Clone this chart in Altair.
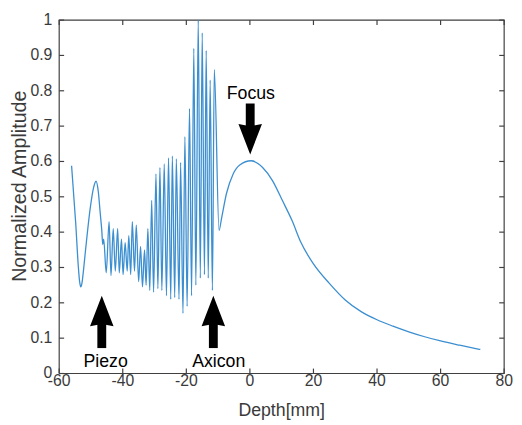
import altair as alt
import pandas as pd

# ---- data ----
depth = [
    -56.1, -54.8, -54.0, -53.6, -53.2, -52.8, -52.5, -51.7, -50.2, -49.2, -48.4,
    -47.7, -47.1, -46.6, -46.3, -46.0, -45.2,
    -44.3, -43.7, -43.0, -42.35, -41.6, -41.1, -40.4, -39.9, -39.25, -38.6,
    -38.1, -37.5, -37.0, -36.3, -35.75, -35.0, -34.4, -33.8, -33.15, -32.65,
    -32.1, -31.5, -30.9, -30.3, -29.55, -28.95, -28.3, -27.7, -26.95, -26.25,
    -25.6, -24.9, -24.4, -23.65, -23.15, -22.3, -21.8, -21.05, -20.45, -19.75,
    -19.0, -18.35, -17.65, -17.0, -16.25, -15.6, -15.0, -14.3, -13.75, -13.1,
    -12.5, -11.8, -11.2, -9.7,
    -8.9, -7.35, -5.3, -3.2, 0.4, 4.0, 7.1, 10.2, 13.3, 16.0, 20.0, 25.0,
    30.0, 35.0, 40.0, 45.0, 50.0, 55.0, 60.0, 66.0, 72.5,
]
amplitude = [
    0.588, 0.425, 0.305, 0.262, 0.245, 0.258, 0.28, 0.35, 0.47, 0.525, 0.544,
    0.515, 0.455, 0.405, 0.365, 0.38, 0.285,
    0.43, 0.277, 0.41, 0.29, 0.41, 0.285, 0.38, 0.28, 0.37, 0.29,
    0.39, 0.28, 0.43, 0.29, 0.42, 0.26, 0.36, 0.245, 0.35, 0.25,
    0.41, 0.235, 0.49, 0.23, 0.565, 0.24, 0.583, 0.235, 0.593, 0.22,
    0.61, 0.21, 0.615, 0.215, 0.607, 0.21, 0.597, 0.17, 0.67, 0.19,
    0.75, 0.22, 0.92, 0.25, 1.0, 0.27, 0.964, 0.28, 0.914, 0.27,
    0.83, 0.235, 0.86, 0.405,
    0.44, 0.51, 0.564, 0.59, 0.602, 0.583, 0.546, 0.49, 0.432, 0.372, 0.31, 0.255,
    0.208, 0.175, 0.152, 0.134, 0.118, 0.104, 0.092, 0.08, 0.068,
]

x_ticks = [-60, -40, -20, 0, 20, 40, 60, 80]
y_ticks = [0, 0.1, 0.2, 0.3, 0.4, 0.5, 0.6, 0.7, 0.8, 0.9, 1]
x_tick_labels = [str(v) for v in x_ticks]
y_tick_labels = [f"{v:g}" for v in y_ticks]
x_title = "Depth[mm]"
y_title = "Normalized Amplitude"

label_text = ["Piezo", "Axicon", "Focus"]
label_x = [-45.4, -9.8, 0.3]
label_y = [0.0195, 0.0195, 0.777]

arrow_x = [-46.6, -11.5, 0.1]
arrow_tail = [0.072, 0.072, 0.764]
arrow_neck = [0.15, 0.15, 0.69]
arrow_head = [0.177, 0.177, 0.663]
arrow_dir = ["up", "up", "down"]

W, H = 452, 359
TL = 5  # inward tick length, px
FONT = "Liberation Sans"
AX = "#404040"
TXT = "#3a3a3a"

# ---- tables ----
X0, X1 = x_ticks[0], x_ticks[-1]
Y0, Y1 = y_ticks[0], y_ticks[-1]
DX = (X1 - X0) * TL / W   # tick length expressed in x units
DY = (Y1 - Y0) * TL / H   # tick length expressed in y units

df = pd.DataFrame({"depth": depth, "amp": amplitude})
labels_df = pd.DataFrame({"t": label_text, "x": label_x, "y": label_y})
arrows_df = pd.DataFrame({"x": arrow_x, "tail": arrow_tail, "neck": arrow_neck,
                          "head": arrow_head, "dir": arrow_dir})
xl_df = pd.DataFrame({"v": x_ticks, "t": x_tick_labels, "lo": [Y0] * len(x_ticks)})
yl_df = pd.DataFrame({"v": y_ticks, "t": y_tick_labels, "lo": [X0] * len(y_ticks)})
xtitle_df = pd.DataFrame({"t": [x_title], "x": [(X0 + X1) / 2], "y": [Y0]})
ytitle_df = pd.DataFrame({"t": [y_title], "x": [X0], "y": [0.53]})

# box outline as a closed path of the four domain corners
box_df = pd.DataFrame({"x": [X0, X1, X1, X0, X0], "y": [Y0, Y0, Y1, Y1, Y0],
                       "o": [0, 1, 2, 3, 4]})

# inward tick segments
seg_rows = []
for i, v in enumerate(x_ticks):
    seg_rows += [(f"b{i}", v, Y0, 0), (f"b{i}", v, Y0 + DY, 1),
                 (f"t{i}", v, Y1, 0), (f"t{i}", v, Y1 - DY, 1)]
for i, v in enumerate(y_ticks):
    seg_rows += [(f"l{i}", X0, v, 0), (f"l{i}", X0 + DX, v, 1),
                 (f"r{i}", X1, v, 0), (f"r{i}", X1 - DX, v, 1)]
seg_df = pd.DataFrame(seg_rows, columns=["id", "x", "y", "o"])

xs = alt.Scale(domain=[X0, X1], nice=False, zero=False)
ys = alt.Scale(domain=[Y0, Y1], nice=False, zero=False)


def X(field):
    return alt.X(field, type="quantitative", scale=xs, axis=None)


def Y(field):
    return alt.Y(field, type="quantitative", scale=ys, axis=None)


line = alt.Chart(df).mark_line(
    interpolate="monotone", color="#3b8ed0", strokeWidth=1.3
).encode(x=X("depth"), y=Y("amp"))

box = alt.Chart(box_df).mark_line(color=AX, strokeWidth=1.2).encode(
    x=X("x"), y=Y("y"), order="o:Q")

ticks = alt.Chart(seg_df).mark_line(color=AX, strokeWidth=1.2).encode(
    x=X("x"), y=Y("y"), detail="id:N", order="o:Q")

x_labels = alt.Chart(xl_df).mark_text(
    font=FONT, fontSize=16, color=TXT, align="center", baseline="alphabetic", dy=12.5
).encode(x=X("v"), y=Y("lo"), text="t:N")
y_labels = alt.Chart(yl_df).mark_text(
    font=FONT, fontSize=16, color=TXT, align="right", baseline="middle", dx=-7
).encode(x=X("lo"), y=Y("v"), text="t:N")

x_title_mark = alt.Chart(xtitle_df).mark_text(
    font=FONT, fontSize=18, color=TXT, align="center", baseline="alphabetic", dy=43
).encode(x=X("x"), y=Y("y"), text="t:N")
y_title_mark = alt.Chart(ytitle_df).mark_text(
    font=FONT, fontSize=20, color=TXT, align="center", baseline="middle",
    angle=270, xOffset=-40
).encode(x=X("x"), y=Y("y"), text="t:N")

shafts = alt.Chart(arrows_df).mark_rule(color="black", strokeWidth=9).encode(
    x=X("x"), y=Y("tail"), y2="neck:Q",
)

up_path = "M0,-1L0.77,1L0,0.85L-0.77,1Z"
down_path = "M0,1L0.77,-1L0,-0.85L-0.77,-1Z"
heads = alt.Chart(arrows_df).mark_point(
    filled=True, color="black", opacity=1, size=961, strokeWidth=0
).encode(
    x=X("x"), y=Y("head"),
    shape=alt.Shape("dir:N", scale=alt.Scale(domain=["up", "down"],
                                             range=[up_path, down_path]),
                    legend=None),
)

texts = alt.Chart(labels_df).mark_text(
    font=FONT, fontSize=18, color="black", align="center", baseline="alphabetic"
).encode(x=X("x"), y=Y("y"), text="t:N")

chart = alt.layer(
    box, ticks, line, x_labels, y_labels, x_title_mark, y_title_mark,
    shafts, heads, texts,
).properties(
    width=W, height=H,
    autosize=alt.AutoSizeParams(type="none"),
    padding={"left": 52, "top": 9, "right": 10, "bottom": 48},
).configure_view(stroke=None)

chart.save("out.html", embed_options={"renderer": "svg", "actions": False})
